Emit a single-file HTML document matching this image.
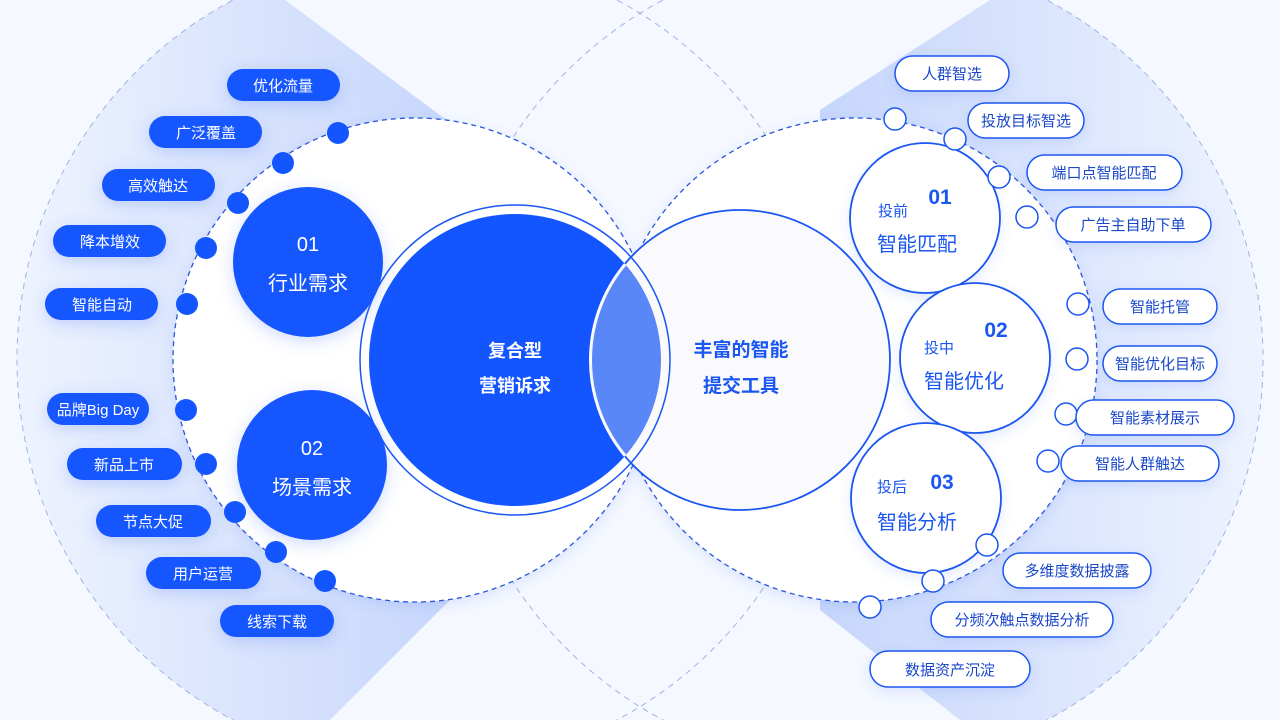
<!DOCTYPE html>
<html><head><meta charset="utf-8"><style>
html,body{margin:0;padding:0;background:#f5f8ff;overflow:hidden;width:1280px;height:720px;}
svg{display:block}
text{font-family:"Liberation Sans","Noto Sans CJK SC",sans-serif;}
</style></head><body>
<svg width="1280" height="720" viewBox="0 0 1280 720" xmlns="http://www.w3.org/2000/svg">
<defs>
<clipPath id="cl"><circle cx="425" cy="360" r="408"/></clipPath>
<clipPath id="cr"><circle cx="855" cy="360" r="408"/></clipPath>
<linearGradient id="gl" x1="0" y1="0" x2="1" y2="0"><stop offset="0" stop-color="#f0f4ff"/><stop offset="1" stop-color="#c6d6fb"/></linearGradient>
<linearGradient id="gr" x1="0" y1="0" x2="1" y2="0"><stop offset="0" stop-color="#c6d6fb"/><stop offset="1" stop-color="#f0f4ff"/></linearGradient>
<filter id="sh" x="-50%" y="-50%" width="200%" height="200%"><feDropShadow dx="0" dy="4" stdDeviation="8" flood-color="#3a6cf0" flood-opacity="0.25"/></filter>
<filter id="sh2" x="-50%" y="-50%" width="200%" height="200%"><feDropShadow dx="0" dy="4" stdDeviation="6" flood-color="#3a6cf0" flood-opacity="0.15"/></filter>
<clipPath id="ov"><circle cx="515" cy="360" r="146"/></clipPath>
</defs>
<rect width="1280" height="720" fill="#f5f8ff"/>
<polygon points="285,0 460,130 460,590 330,720 0,720 0,0" fill="url(#gl)" clip-path="url(#cl)"/>
<polygon points="990,0 820,110 820,610 960,720 1280,720 1280,0" fill="url(#gr)" clip-path="url(#cr)"/>
<circle cx="425" cy="360" r="408" fill="none" stroke="#9fb3e6" stroke-width="1" stroke-dasharray="6,5"/>
<circle cx="855" cy="360" r="408" fill="none" stroke="#9fb3e6" stroke-width="1" stroke-dasharray="6,5"/>
<circle cx="415" cy="360" r="242" fill="#fff" stroke="#2a55d8" stroke-width="1.3" stroke-dasharray="5,4" filter="url(#sh2)"/>
<circle cx="855" cy="360" r="242" fill="#fff" stroke="#2a55d8" stroke-width="1.3" stroke-dasharray="5,4" filter="url(#sh2)"/>
<circle cx="515" cy="360" r="155" fill="#fff"/>
<circle cx="515" cy="360" r="146" fill="#1356ff"/>
<circle cx="740" cy="360" r="150" fill="#fafafc" stroke="#1a56f0" stroke-width="1.8"/>
<circle cx="515" cy="360" r="155" fill="none" stroke="#1a56f0" stroke-width="1.5"/>
<circle cx="740" cy="360" r="148" fill="#5a87f8" clip-path="url(#ov)"/>
<circle cx="740" cy="360" r="150" fill="none" stroke="#fff" stroke-width="2" clip-path="url(#ov)"/>
<text x="515" y="357" fill="#fff" font-size="18" font-weight="bold" text-anchor="middle">复合型</text>
<text x="515" y="392" fill="#fff" font-size="18" font-weight="bold" text-anchor="middle">营销诉求</text>
<text x="741" y="356" fill="#1a56f0" font-size="19" font-weight="bold" text-anchor="middle">丰富的智能</text>
<text x="741" y="392" fill="#1a56f0" font-size="19" font-weight="bold" text-anchor="middle">提交工具</text>
<g filter="url(#sh)">
<circle cx="308" cy="262" r="75" fill="#1356ff"/>
<circle cx="312" cy="465" r="75" fill="#1356ff"/>
</g>
<text x="308" y="251" fill="#fff" font-size="20" text-anchor="middle">01</text>
<text x="308" y="290" fill="#fff" font-size="20" text-anchor="middle">行业需求</text>
<text x="312" y="455" fill="#fff" font-size="20" text-anchor="middle">02</text>
<text x="312" y="494" fill="#fff" font-size="20" text-anchor="middle">场景需求</text>
<g fill="#1356ff">
<circle cx="338" cy="133" r="11"/><circle cx="283" cy="163" r="11"/><circle cx="238" cy="203" r="11"/><circle cx="206" cy="248" r="11"/><circle cx="187" cy="304" r="11"/><circle cx="186" cy="410" r="11"/><circle cx="206" cy="464" r="11"/><circle cx="235" cy="512" r="11"/><circle cx="276" cy="552" r="11"/><circle cx="325" cy="581" r="11"/>
</g>
<g filter="url(#sh)" fill="#1356ff">
<rect x="227" y="69" width="113" height="32" rx="16"/>
<rect x="149" y="116" width="113" height="32" rx="16"/>
<rect x="102" y="169" width="113" height="32" rx="16"/>
<rect x="53" y="225" width="113" height="32" rx="16"/>
<rect x="45" y="288" width="113" height="32" rx="16"/>
<rect x="47" y="393" width="102" height="32" rx="16"/>
<rect x="67" y="448" width="115" height="32" rx="16"/>
<rect x="96" y="505" width="115" height="32" rx="16"/>
<rect x="146" y="557" width="115" height="32" rx="16"/>
<rect x="220" y="605" width="114" height="32" rx="16"/>
</g>
<g fill="#fff" font-size="15" text-anchor="middle">
<text x="283" y="91">优化流量</text>
<text x="206" y="138">广泛覆盖</text>
<text x="158" y="191">高效触达</text>
<text x="110" y="247">降本增效</text>
<text x="102" y="310">智能自动</text>
<text x="98" y="415">品牌Big Day</text>
<text x="124" y="470">新品上市</text>
<text x="153" y="527">节点大促</text>
<text x="203" y="579">用户运营</text>
<text x="277" y="627">线索下载</text>
</g>
<g fill="#fff" stroke="#1a56f0" stroke-width="1.8" filter="url(#sh2)">
<circle cx="925" cy="218" r="75"/>
<circle cx="975" cy="358" r="75"/>
<circle cx="926" cy="498" r="75"/>
</g>
<g fill="#1a56f0">
<text x="878" y="216" font-size="15">投前</text>
<text x="940" y="204" font-size="21" font-weight="bold" text-anchor="middle">01</text>
<text x="877" y="251" font-size="20">智能匹配</text>
<text x="924" y="353" font-size="15">投中</text>
<text x="996" y="337" font-size="21" font-weight="bold" text-anchor="middle">02</text>
<text x="924" y="388" font-size="20">智能优化</text>
<text x="877" y="492" font-size="15">投后</text>
<text x="942" y="489" font-size="21" font-weight="bold" text-anchor="middle">03</text>
<text x="877" y="529" font-size="20">智能分析</text>
</g>
<g fill="#fff" stroke="#1a56f0" stroke-width="1.5">
<circle cx="895" cy="119" r="11"/><circle cx="955" cy="139" r="11"/><circle cx="999" cy="177" r="11"/><circle cx="1027" cy="217" r="11"/><circle cx="1078" cy="304" r="11"/><circle cx="1077" cy="359" r="11"/><circle cx="1066" cy="414" r="11"/><circle cx="1048" cy="461" r="11"/><circle cx="987" cy="545" r="11"/><circle cx="933" cy="581" r="11"/><circle cx="870" cy="607" r="11"/>
</g>
<g fill="#fff" stroke="#1a56f0" stroke-width="1.5" filter="url(#sh2)">
<rect x="895" y="56" width="114" height="35" rx="17.5"/>
<rect x="968" y="103" width="116" height="35" rx="17.5"/>
<rect x="1027" y="155" width="155" height="35" rx="17.5"/>
<rect x="1056" y="207" width="155" height="35" rx="17.5"/>
<rect x="1103" y="289" width="114" height="35" rx="17.5"/>
<rect x="1103" y="346" width="114" height="35" rx="17.5"/>
<rect x="1076" y="400" width="158" height="35" rx="17.5"/>
<rect x="1061" y="446" width="158" height="35" rx="17.5"/>
<rect x="1003" y="553" width="148" height="35" rx="17.5"/>
<rect x="931" y="602" width="182" height="35" rx="17.5"/>
<rect x="870" y="651" width="160" height="36" rx="18"/>
</g>
<g fill="#1a47c8" font-size="15" text-anchor="middle">
<text x="952" y="79">人群智选</text>
<text x="1026" y="126">投放目标智选</text>
<text x="1104" y="178">端口点智能匹配</text>
<text x="1133" y="230">广告主自助下单</text>
<text x="1160" y="312">智能托管</text>
<text x="1160" y="369">智能优化目标</text>
<text x="1155" y="423">智能素材展示</text>
<text x="1140" y="469">智能人群触达</text>
<text x="1077" y="576">多维度数据披露</text>
<text x="1022" y="625">分频次触点数据分析</text>
<text x="950" y="675">数据资产沉淀</text>
</g>
</svg>
</body></html>
